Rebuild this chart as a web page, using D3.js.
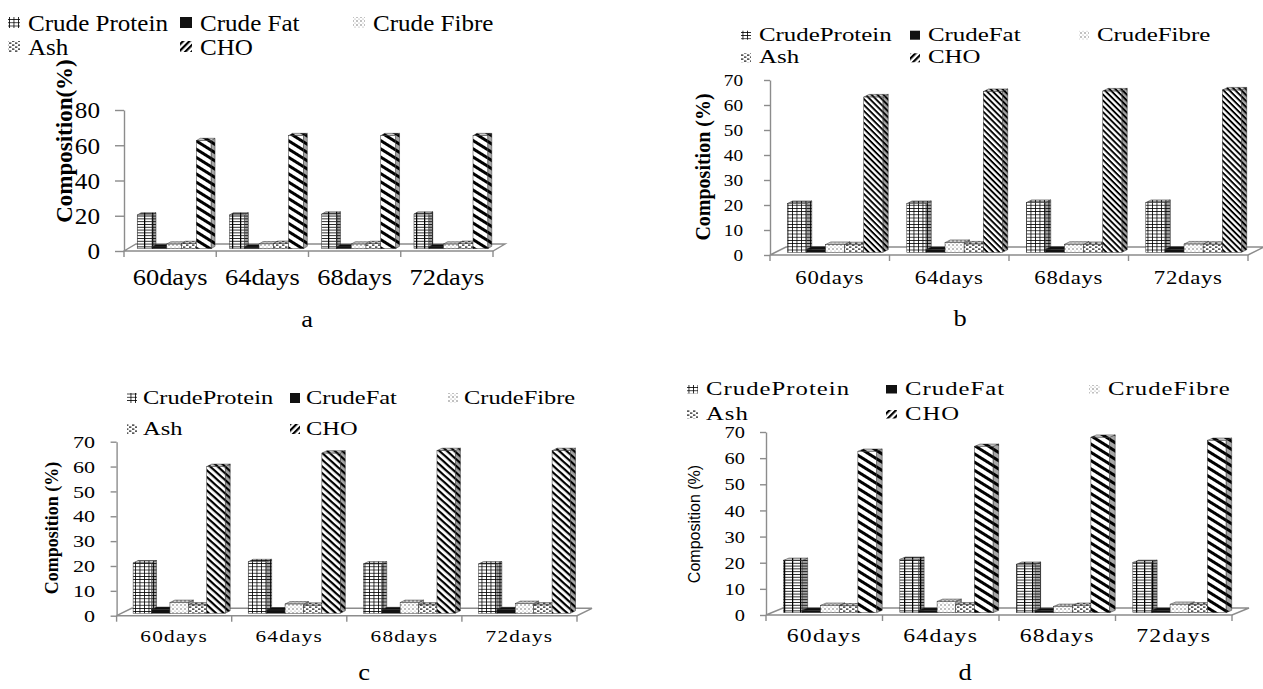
<!DOCTYPE html>
<html>
<head>
<meta charset="utf-8">
<script src="https://cdnjs.cloudflare.com/ajax/libs/d3/7.8.5/d3.min.js"></script>
<style>
  body { margin: 0; background: #fff; }
  svg { display: block; }
</style>
</head>
<body>
<div id="chart"></div>
<script>
// Data
const days = ['60days', '64days', '68days', '72days']
const seriesKeys = ['protein', 'fat', 'fibre', 'ash', 'cho']
const namesSpaced = ['Crude Protein', 'Crude Fat', 'Crude Fibre', 'Ash', 'CHO']
const namesTight = ['CrudeProtein', 'CrudeFat', 'CrudeFibre', 'Ash', 'CHO']

// panel a
const proteinA = [19.1, 19.1, 19.6, 19.6]
const fatA = [1.0, 0.9, 1.0, 1.0]
const fibreA = [2.6, 2.7, 2.6, 2.6]
const ashA = [2.9, 3.0, 2.9, 3.0]
const choA = [61.3, 64.1, 64.1, 64.1]

// panel b
const proteinB = [19.5, 19.5, 19.9, 19.9]
const fatB = [1.2, 1.1, 1.2, 1.2]
const fibreB = [3.1, 3.9, 3.2, 3.3]
const ashB = [3.0, 3.3, 3.1, 3.2]
const choB = [62.1, 64.3, 64.5, 64.9]

// panel c
const proteinC = [20.2, 20.7, 19.8, 19.8]
const fatC = [1.5, 1.3, 1.4, 1.4]
const fibreC = [4.3, 3.7, 4.3, 3.9]
const ashC = [3.3, 3.2, 3.3, 3.3]
const choC = [59.0, 64.4, 65.4, 65.4]

// panel d
const proteinD = [20.0, 20.4, 18.5, 19.2]
const fatD = [0.9, 0.9, 0.8, 0.9]
const fibreD = [2.8, 4.3, 2.4, 3.2]
const ashD = [2.6, 3.0, 2.8, 3.0]
const choD = [61.7, 63.6, 67.1, 65.9]

const ticksA = [0, 20, 40, 60, 80]
const ticks70 = [0, 10, 20, 30, 40, 50, 60, 70]

const serif = '"Liberation Serif", "Times New Roman", serif'

// Draw Image
const svg = d3.select('#chart')
  .append('svg')
  .attr('width', 1263)
  .attr('height', 689)

svg.append('rect').attr('width', 1263).attr('height', 689).attr('fill', '#fff')

// PATTERNS
const defs = svg.append('defs')

function pattern(id, w, h, draw, transform) {
  const p = defs.append('pattern')
    .attr('id', id)
    .attr('patternUnits', 'userSpaceOnUse')
    .attr('width', w)
    .attr('height', h)
  if (transform) p.attr('patternTransform', transform)
  p.append('rect').attr('width', w).attr('height', h).attr('fill', '#fff')
  draw(p)
}

pattern('grid', 4.5, 3.2, p => p.append('path')
  .attr('d', 'M0,0.4H4.5M0.4,0V3.2')
  .attr('stroke', '#000').attr('stroke-width', 0.8))
pattern('hlines', 8, 2.8, p => {
  p.append('path').attr('d', 'M0,0.4H8').attr('stroke', '#000').attr('stroke-width', 0.9)
  p.append('path').attr('d', 'M0.6,0V2.8').attr('stroke', '#000').attr('stroke-width', 1.3)
})
pattern('fat', 3, 3, p => p.select('rect').attr('fill', '#111'))
pattern('fibre', 4, 4, p => {
  p.append('circle').attr('cx', 1).attr('cy', 1).attr('r', 0.7).attr('fill', '#555')
  p.append('circle').attr('cx', 3).attr('cy', 3).attr('r', 0.6).attr('fill', '#999')
})
pattern('ash', 6, 4, p => {
  p.append('rect').attr('x', 0).attr('y', 0.5).attr('width', 2.4).attr('height', 1.2).attr('fill', '#111')
  p.append('rect').attr('x', 3).attr('y', 2.5).attr('width', 2.4).attr('height', 1.2).attr('fill', '#111')
})
pattern('choThin', 10, 4.2, p => p.append('rect').attr('width', 10).attr('height', 1.9).attr('fill', '#000'), 'rotate(45)')
pattern('choMid', 10, 5, p => p.append('rect').attr('width', 10).attr('height', 2.2).attr('fill', '#000'), 'rotate(42)')
pattern('choThick', 10, 7, p => p.append('rect').attr('width', 10).attr('height', 3).attr('fill', '#000'), 'rotate(32)')
pattern('choLegend', 10, 4.5, p => p.append('rect').attr('width', 10).attr('height', 2.2).attr('fill', '#000'), 'rotate(-45)')

const legendFills = ['grid', 'fat', 'fibre', 'ash', 'choLegend']

// text helper, the figure is stretched sideways
function stext(g, x, y, str, o) {
  return g.append('text')
    .attr('transform', `translate(${x},${y}) scale(${o.sx || 1},1)`)
    .attr('text-anchor', o.anchor || 'start')
    .style('font-family', o.family || serif)
    .style('font-size', o.size + 'px')
    .style('font-weight', o.weight || 'normal')
    .style('letter-spacing', (o.ls || 0) + 'px')
    .attr('fill', '#000')
    .text(str)
}

function drawPanel(p, values) {
  const g = svg.append('g')

  // SCALES
  const x = d3.scaleBand()
    .domain(days)
    .range([p.x0, p.x1])
    .paddingInner(0.2)
    .paddingOuter(0.1)

  const xs = d3.scaleBand()
    .domain(seriesKeys)
    .range([0, x.bandwidth()])

  const y = d3.scaleLinear()
    .domain([0, p.max])
    .range([p.yBase, p.yTop])

  // floor
  g.append('path')
    .attr('d', `M${p.x0},${y(0)}L${p.x1},${y(0)}L${p.x1 + p.dx},${y(0) - p.dy}L${p.x0 + p.dx},${y(0) - p.dy}Z`)
    .attr('fill', '#fff')
    .attr('stroke', '#8c8c8c')
    .attr('stroke-width', 1.4)

  // category ticks
  const bounds = d3.range(days.length + 1).map(i => p.x0 + i * x.step())
  g.selectAll('.xtick')
    .data(bounds)
    .join('line')
    .attr('x1', d => d).attr('x2', d => d)
    .attr('y1', y(0)).attr('y2', y(0) + 6)
    .attr('stroke', '#8c8c8c')
    .attr('stroke-width', 1.4)

  // value axis
  const yAxis = g.append('g')
    .attr('transform', `translate(${p.x0},0)`)
    .call(d3.axisLeft(y).tickValues(p.ticks).tickSize(p.tickLen).tickSizeOuter(0).tickPadding(p.tickGap - p.tickLen))
  yAxis.select('.domain').attr('stroke', '#8c8c8c').attr('stroke-width', 1.4)
  yAxis.selectAll('.tick line').attr('stroke', '#8c8c8c').attr('stroke-width', 1.4)
  yAxis.selectAll('.tick text')
    .attr('x', null)
    .attr('dy', null)
    .attr('transform', `translate(${-p.tickGap},${p.size * 0.33}) scale(${p.sx},1)`)
    .style('font-family', serif)
    .style('font-size', p.size + 'px')
    .attr('fill', '#000')

  // bars
  const bdx = p.dx / 3
  const bdy = p.dy / 3
  days.forEach((day, i) => {
    seriesKeys.forEach((key, j) => {
      const v = values[j][i]
      const xl = x(day) + xs(key) + p.dx / 3
      const xr = xl + xs.bandwidth()
      const bottom = y(0) - p.dy / 3
      const top = y(v) - p.dy / 3
      const fill = `url(#${p.fills[j]})`
      const side = `M${xr},${top}L${xr + bdx},${top - bdy}L${xr + bdx},${bottom - bdy}L${xr},${bottom}Z`
      const lid = `M${xl},${top}L${xl + bdx},${top - bdy}L${xr + bdx},${top - bdy}L${xr},${top}Z`
      g.append('path').attr('d', side).attr('fill', fill)
      g.append('path').attr('d', side).attr('fill', '#000').attr('fill-opacity', 0.35)
        .attr('stroke', '#333').attr('stroke-width', 0.5)
      g.append('path').attr('d', lid).attr('fill', fill)
      g.append('path').attr('d', lid).attr('fill', '#000').attr('fill-opacity', 0.2)
        .attr('stroke', '#333').attr('stroke-width', 0.5)
      g.append('rect')
        .attr('x', xl).attr('y', top)
        .attr('width', xs.bandwidth()).attr('height', bottom - top)
        .attr('fill', fill)
        .attr('stroke', '#333').attr('stroke-width', 0.5)
    })
  })

  // category labels
  days.forEach(day => {
    stext(g, x(day) + x.bandwidth() / 2, p.xLabelY, day, { size: p.xSize, sx: p.xSx, anchor: 'middle', ls: p.xLs })
  })

  // axis title
  g.append('text')
    .attr('transform', `translate(${p.titleX},${p.titleY}) rotate(-90)`)
    .attr('text-anchor', 'middle')
    .attr('dominant-baseline', 'central')
    .style('font-family', p.titleFamily)
    .style('font-size', p.titleSize + 'px')
    .style('font-weight', p.titleWeight)
    .text(p.title)

  // legend
  const rows = [[0, 1, 2], [3, 4]]
  rows.forEach((row, r) => {
    row.forEach((j, c) => {
      const mx = p.legCols[c]
      const base = p.legRows[r]
      g.append('rect')
        .attr('x', mx).attr('y', base - p.markTop)
        .attr('width', p.markW).attr('height', p.markH)
        .attr('fill', `url(#${legendFills[j]})`)
      stext(g, mx + p.legGap, base, p.names[j], { size: p.legSize, sx: p.legSx, ls: p.legLs })
    })
  })

  // caption
  stext(g, p.capX, p.capY, p.caption, { size: 23, sx: 1.15, anchor: 'middle' })
}

drawPanel({
  x0: 124, x1: 493, yBase: 251, yTop: 110, max: 80, dx: 12, dy: 7,
  ticks: ticksA, tickLen: 9, tickGap: 24, size: 24, sx: 1.05,
  fills: ['hlines', 'fat', 'fibre', 'ash', 'choThick'],
  xLabelY: 285, xSize: 24, xSx: 1.1, xLs: 0,
  title: 'Composition(%)', titleX: 64, titleY: 141, titleSize: 23, titleWeight: 'bold', titleFamily: serif,
  names: namesSpaced, legCols: [8, 180, 353], legRows: [31, 55], legGap: 20,
  legSize: 24, legSx: 1.045, legLs: 0, markW: 12, markH: 11, markTop: 14,
  caption: 'a', capX: 307, capY: 327
}, [proteinA, fatA, fibreA, ashA, choA])

drawPanel({
  x0: 770, x1: 1248, yBase: 255, yTop: 80, max: 70, dx: 16, dy: 8,
  ticks: ticks70, tickLen: 6, tickGap: 27, size: 16, sx: 1.2,
  fills: ['grid', 'fat', 'fibre', 'ash', 'choThin'],
  xLabelY: 284, xSize: 19, xSx: 1.2, xLs: 0.6,
  title: 'Composition (%)', titleX: 703, titleY: 167, titleSize: 20, titleWeight: 'bold', titleFamily: serif,
  names: namesTight, legCols: [741, 910, 1079], legRows: [40.7, 63.3], legGap: 18,
  legSize: 19, legSx: 1.31, legLs: 0, markW: 10, markH: 9, markTop: 10,
  caption: 'b', capX: 960, capY: 326
}, [proteinB, fatB, fibreB, ashB, choB])

drawPanel({
  x0: 116.6, x1: 577, yBase: 615.7, yTop: 441.7, max: 70, dx: 15, dy: 7.4,
  ticks: ticks70, tickLen: 6, tickGap: 21.6, size: 17, sx: 1.3,
  fills: ['grid', 'fat', 'fibre', 'ash', 'choMid'],
  xLabelY: 641.7, xSize: 17, xSx: 1.25, xLs: 1,
  title: 'Composition (%)', titleX: 52, titleY: 528, titleSize: 18, titleWeight: 'bold', titleFamily: serif,
  names: namesTight, legCols: [127, 290, 448], legRows: [404, 435], legGap: 16,
  legSize: 18.5, legSx: 1.32, legLs: 0, markW: 10, markH: 10, markTop: 11,
  caption: 'c', capX: 364, capY: 680
}, [proteinC, fatC, fibreC, ashC, choC])

drawPanel({
  x0: 766, x1: 1232, yBase: 615, yTop: 432, max: 70, dx: 17, dy: 7,
  ticks: ticks70, tickLen: 6, tickGap: 21, size: 17, sx: 1.2,
  fills: ['hlines', 'fat', 'fibre', 'ash', 'choThick'],
  xLabelY: 641.7, xSize: 18, xSx: 1.32, xLs: 1,
  title: 'Composition (%)', titleX: 694, titleY: 524, titleSize: 16, titleWeight: 'normal', titleFamily: '"Liberation Sans", Arial, sans-serif',
  names: namesTight, legCols: [687, 886, 1089], legRows: [395, 420], legGap: 19,
  legSize: 19, legSx: 1.3, legLs: 0.8, markW: 11, markH: 8.5, markTop: 10,
  caption: 'd', capX: 965, capY: 680
}, [proteinD, fatD, fibreD, ashD, choD])
</script>
</body>
</html>
